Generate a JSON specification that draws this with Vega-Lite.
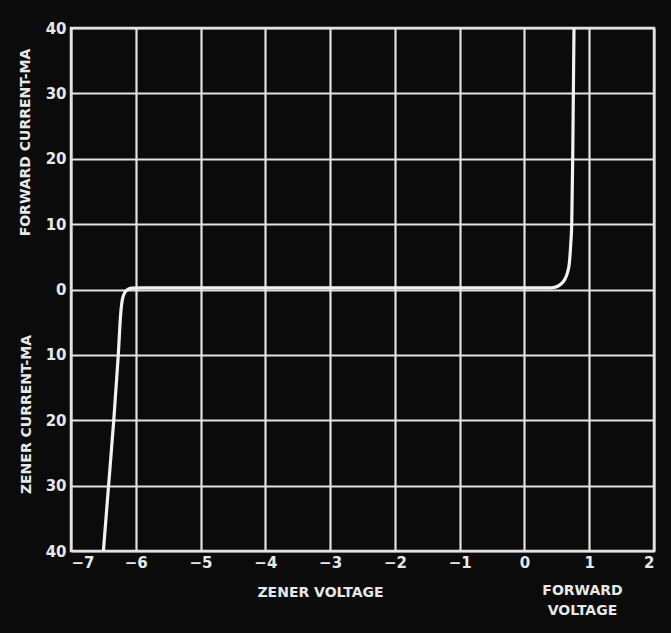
{
  "$schema": "https://vega.github.io/schema/vega-lite/v6.json",
  "width": 583,
  "height": 523,
  "autosize": {"type": "none"},
  "padding": {"left": 71, "top": 28, "right": 17, "bottom": 82},
  "background": "#0b0b0b",
  "config": {
    "view": {"stroke": "#e6e6e6", "strokeWidth": 2.5, "fill": "#0b0b0b"},
    "axis": {
      "labelFont": "DejaVu Sans",
      "labelFontSize": 15,
      "labelFontWeight": "bold",
      "labelColor": "#e8e8e8",
      "titleFont": "DejaVu Sans",
      "titleFontSize": 14,
      "titleFontWeight": "bold",
      "titleColor": "#e8e8e8",
      "gridColor": "#e2e2e2",
      "gridWidth": 2.2,
      "gridOpacity": 1,
      "ticks": false,
      "domain": false
    }
  },
  "data": {
    "values": [
      {"v": -6.50, "ma": -40},
      {"v": -6.42, "ma": -30},
      {"v": -6.34, "ma": -20},
      {"v": -6.27, "ma": -10},
      {"v": -6.235, "ma": -4},
      {"v": -6.215, "ma": -2},
      {"v": -6.19, "ma": -0.9},
      {"v": -6.14, "ma": -0.1},
      {"v": -6.07, "ma": 0.2},
      {"v": -5.9, "ma": 0.25},
      {"v": 0.40, "ma": 0.25},
      {"v": 0.49, "ma": 0.4},
      {"v": 0.56, "ma": 0.8},
      {"v": 0.62, "ma": 1.5},
      {"v": 0.665, "ma": 2.6},
      {"v": 0.695, "ma": 4.2},
      {"v": 0.715, "ma": 7},
      {"v": 0.73, "ma": 10},
      {"v": 0.745, "ma": 20},
      {"v": 0.755, "ma": 30},
      {"v": 0.765, "ma": 40}
    ]
  },
  "layer": [
    {
      "mark": {"type": "line", "color": "#f2f2f2", "strokeWidth": 3.2, "interpolate": "monotone", "clip": true},
      "encoding": {
        "x": {
          "field": "v", "type": "quantitative",
          "scale": {"domain": [-7, 2], "nice": false},
          "axis": {
            "values": [-7, -6, -5, -4, -3, -2, -1, 0, 1, 2],
            "labelPadding": 4,
            "title": "ZENER VOLTAGE",
            "titleX": 249,
            "titleY": 34,
            "titleAnchor": "middle",
            "titleBaseline": "top"
          }
        },
        "y": {
          "field": "ma", "type": "quantitative",
          "scale": {"domain": [-40, 40], "nice": false},
          "axis": {
            "values": [-40, -30, -20, -10, 0, 10, 20, 30, 40],
            "labelExpr": "abs(datum.value)",
            "labelPadding": 5,
            "title": "FORWARD CURRENT-MA",
            "titleX": -46,
            "titleY": 114,
            "titleAngle": 270,
            "titleAnchor": "middle",
            "titleBaseline": "middle"
          }
        }
      }
    },
    {
      "mark": {"type": "line", "opacity": 0},
      "encoding": {
        "x": {
          "field": "v", "type": "quantitative",
          "scale": {"domain": [-7, 2], "nice": false},
          "axis": {
            "orient": "bottom",
            "labels": false,
            "grid": false,
            "title": ["FORWARD", "VOLTAGE"],
            "titleX": 511,
            "titleY": 32,
            "titleAnchor": "middle",
            "titleBaseline": "top",
            "titleLineHeight": 20
          }
        },
        "y": {
          "field": "ma", "type": "quantitative",
          "scale": {"domain": [-40, 40], "nice": false},
          "axis": {
            "orient": "left",
            "labels": false,
            "grid": false,
            "title": "ZENER CURRENT-MA",
            "titleX": -45,
            "titleY": 386,
            "titleAngle": 270,
            "titleAnchor": "middle",
            "titleBaseline": "middle"
          }
        }
      }
    }
  ],
  "resolve": {"axis": {"x": "independent", "y": "independent"}}
}
